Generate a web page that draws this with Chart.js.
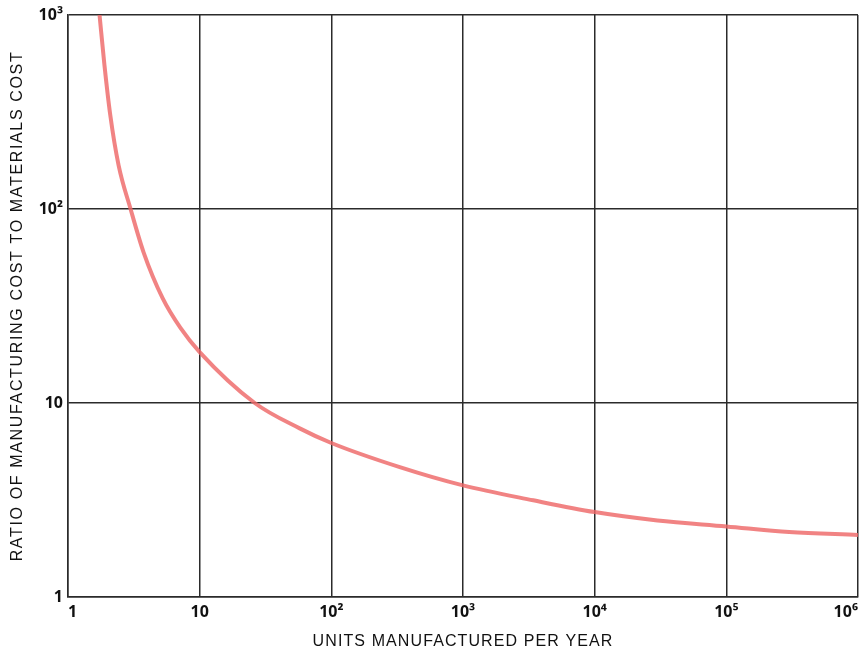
<!DOCTYPE html>
<html lang="en">
<head>
    <meta charset="UTF-8">
    <title>Manufacturing Cost Ratio</title>
    <script src="https://cdn.jsdelivr.net/npm/chart.js"></script>
    <style>
        body { margin: 0; background: #fff; }
        #wrap { width: 860px; height: 651px; }
    </style>
</head>
<body>
    <div id="wrap"><canvas id="costChart"></canvas></div>

    <script>
        // values
        const units = [1.736, 1.891, 2.094, 2.421, 2.987, 3.75, 5.23, 7.17, 10, 26.2, 57.5, 100, 331, 1000, 3420, 10000, 30000, 100000, 300000, 1000000];
        const ratio = [1000, 552, 305, 168.4, 100, 59.8, 34.7, 24.3, 18.3, 10, 7.4, 6.22, 4.67, 3.76, 3.15, 2.74, 2.48, 2.31, 2.16, 2.09];

        const xTickValues = [1, 10, 100, 1000, 10000, 100000, 1000000];
        const xTickLabels = ['1', '10', '10²', '10³', '10⁴', '10⁵', '10⁶'];
        const yTickValues = [1, 10, 100, 1000];
        const yTickLabels = ['1', '10', '10²', '10³'];

        const gridColor = '#2b2b2b';
        const titleFont = '"Liberation Sans", Arial, Helvetica, sans-serif';
        const tickFont = '"Noto Sans", "Liberation Sans", Arial, sans-serif';

        // the printed axis titles are spaced out, canvas needs letterSpacing for that
        const spacedTitles = {
            id: 'spacedTitles',
            beforeDraw(chart) {
                const spacing = { x: '1.1px', y: '1.65px' };
                Object.keys(spacing).forEach(id => {
                    const scale = chart.scales[id];
                    if (!scale || scale._spacedTitle) return;
                    const orig = scale.drawTitle.bind(scale);
                    scale.drawTitle = function () {
                        this.ctx.save();
                        this.ctx.letterSpacing = spacing[id];
                        orig();
                        this.ctx.restore();
                    };
                    scale._spacedTitle = true;
                });
            }
        };

        const ctx = document.getElementById('costChart').getContext('2d');
        const costChart = new Chart(ctx, {
            type: 'line',
            data: {
                datasets: [{
                    label: 'Ratio',
                    data: units.map((u, i) => ({ x: u, y: ratio[i] })),
                    borderColor: 'rgba(238, 104, 104, 0.82)',
                    borderWidth: 4,
                    pointRadius: 0,
                    fill: false,
                    cubicInterpolationMode: 'monotone'
                }]
            },
            options: {
                responsive: true,
                maintainAspectRatio: false,
                animation: false,
                layout: { padding: { top: 15, right: 2, left: 0, bottom: 0 } },
                plugins: {
                    legend: { display: false },
                    tooltip: { enabled: false }
                },
                scales: {
                    x: {
                        type: 'logarithmic',
                        min: 1,
                        max: 1000000,
                        afterBuildTicks: scale => {
                            scale.ticks = xTickValues.map(v => ({ value: v }));
                        },
                        afterFit: scale => {
                            scale.height = 54;
                            scale.paddingRight = 0;
                            scale.paddingLeft = 0;
                        },
                        grid: { color: gridColor, lineWidth: 1.5, drawTicks: false },
                        border: { color: gridColor, width: 1.5 },
                        ticks: {
                            padding: 6,
                            align: 'inner',
                            maxRotation: 0,
                            color: '#111',
                            font: { family: tickFont, size: 16, weight: 'bold' },
                            callback: (v, i) => xTickLabels[i]
                        },
                        title: {
                            display: true,
                            text: 'UNITS MANUFACTURED PER YEAR',
                            color: '#111',
                            font: { family: titleFont, size: 16 },
                            padding: { top: 6, bottom: 0 }
                        }
                    },
                    y: {
                        type: 'logarithmic',
                        min: 1,
                        max: 1000,
                        afterBuildTicks: scale => {
                            scale.ticks = yTickValues.map(v => ({ value: v }));
                        },
                        afterFit: scale => {
                            scale.width = 68;
                            scale.paddingTop = 0;
                            scale.paddingBottom = 0;
                        },
                        grid: { color: gridColor, lineWidth: 1.5, drawTicks: false },
                        border: { color: gridColor, width: 1.5 },
                        ticks: {
                            padding: 5,
                            align: 'inner',
                            color: '#111',
                            font: { family: tickFont, size: 16, weight: 'bold' },
                            callback: (v, i) => yTickLabels[i]
                        },
                        title: {
                            display: true,
                            text: 'RATIO OF MANUFACTURING COST TO MATERIALS COST',
                            color: '#111',
                            font: { family: titleFont, size: 16 },
                            padding: { top: 8, bottom: 0 }
                        }
                    }
                }
            },
            plugins: [spacedTitles]
        });
    </script>
</body>
</html>
